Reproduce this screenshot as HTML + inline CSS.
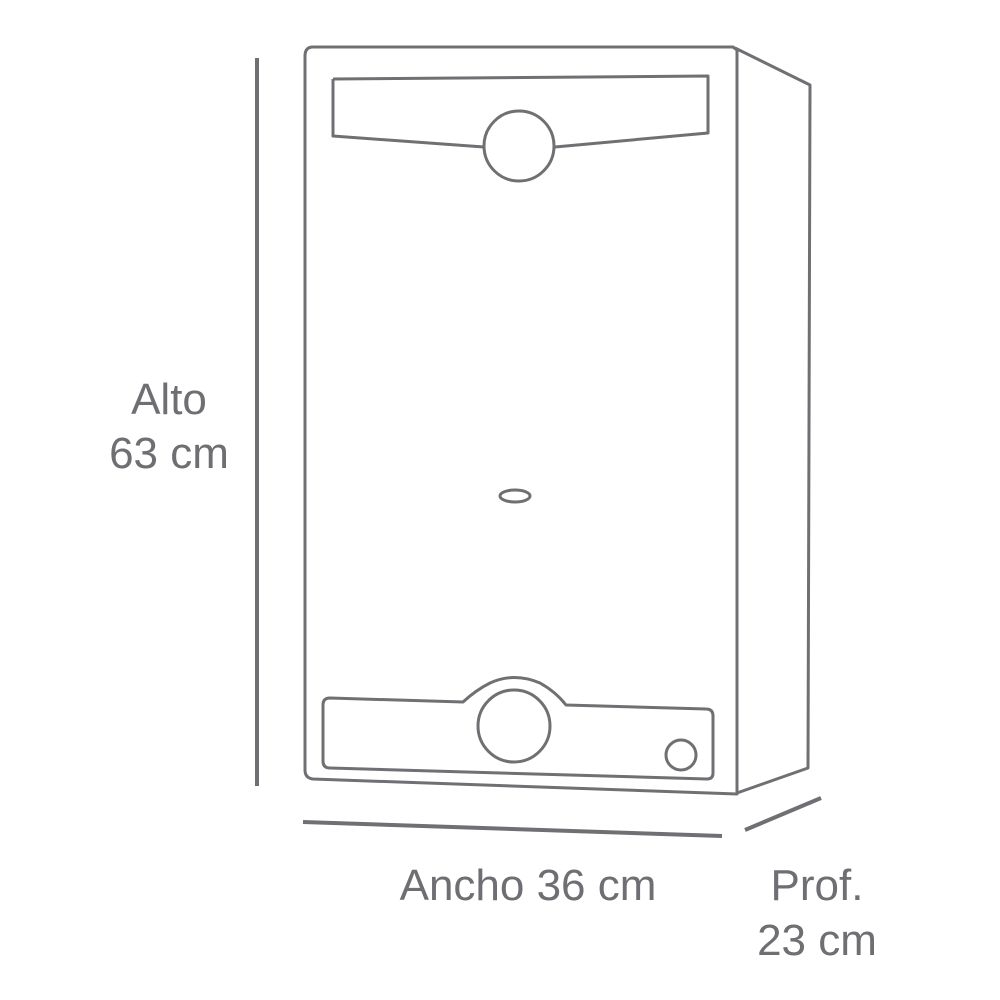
<!DOCTYPE html>
<html><head><meta charset="utf-8"><style>
html,body{margin:0;padding:0;background:#fff}
svg{display:block}
text{font-family:"Liberation Sans",sans-serif;fill:#6e6e73;font-size:44px}
</style></head><body>
<svg width="1000" height="1000" viewBox="0 0 1000 1000" xmlns="http://www.w3.org/2000/svg">
<g fill="none" stroke="#707074" stroke-width="3" stroke-linejoin="round">
<path d="M313,47 L733,47 L737,50 L737,794 L313,779 Q305,778 305,770 L305,56 Q305,47 313,47 Z"/>
<path d="M735,48 L810,85 L808,768 L737,793"/>
<path d="M333,79 L708,76 L708,133 L555,147 M484,147 L333,136 Z"/>
<path d="M333,79 L333,136"/>
<circle cx="519" cy="146" r="35"/>
<ellipse cx="515" cy="496" rx="15" ry="6"/>
<path d="M330,698 L463,702 Q476,690 490,683 Q514,672 540,683 Q556,692 566,705 L706,709 Q713,709 713,716 L713,773 Q713,779 707,779 L330,768 Q323,768 323,761 L323,705 Q323,698 330,698 Z"/>
<circle cx="514" cy="726" r="36"/>
<circle cx="681" cy="755" r="15"/>
</g>
<g stroke="#707074" stroke-width="4" fill="none">
<line x1="257" y1="58" x2="257" y2="786"/>
<line x1="303" y1="822" x2="722" y2="836"/>
<line x1="745" y1="830" x2="821" y2="798"/>
</g>
<text x="169" y="414" text-anchor="middle">Alto</text>
<text x="169" y="468" text-anchor="middle">63 cm</text>
<text x="528" y="900" text-anchor="middle">Ancho 36 cm</text>
<text x="817" y="900" text-anchor="middle">Prof.</text>
<text x="817" y="955" text-anchor="middle">23 cm</text>
</svg>
</body></html>
